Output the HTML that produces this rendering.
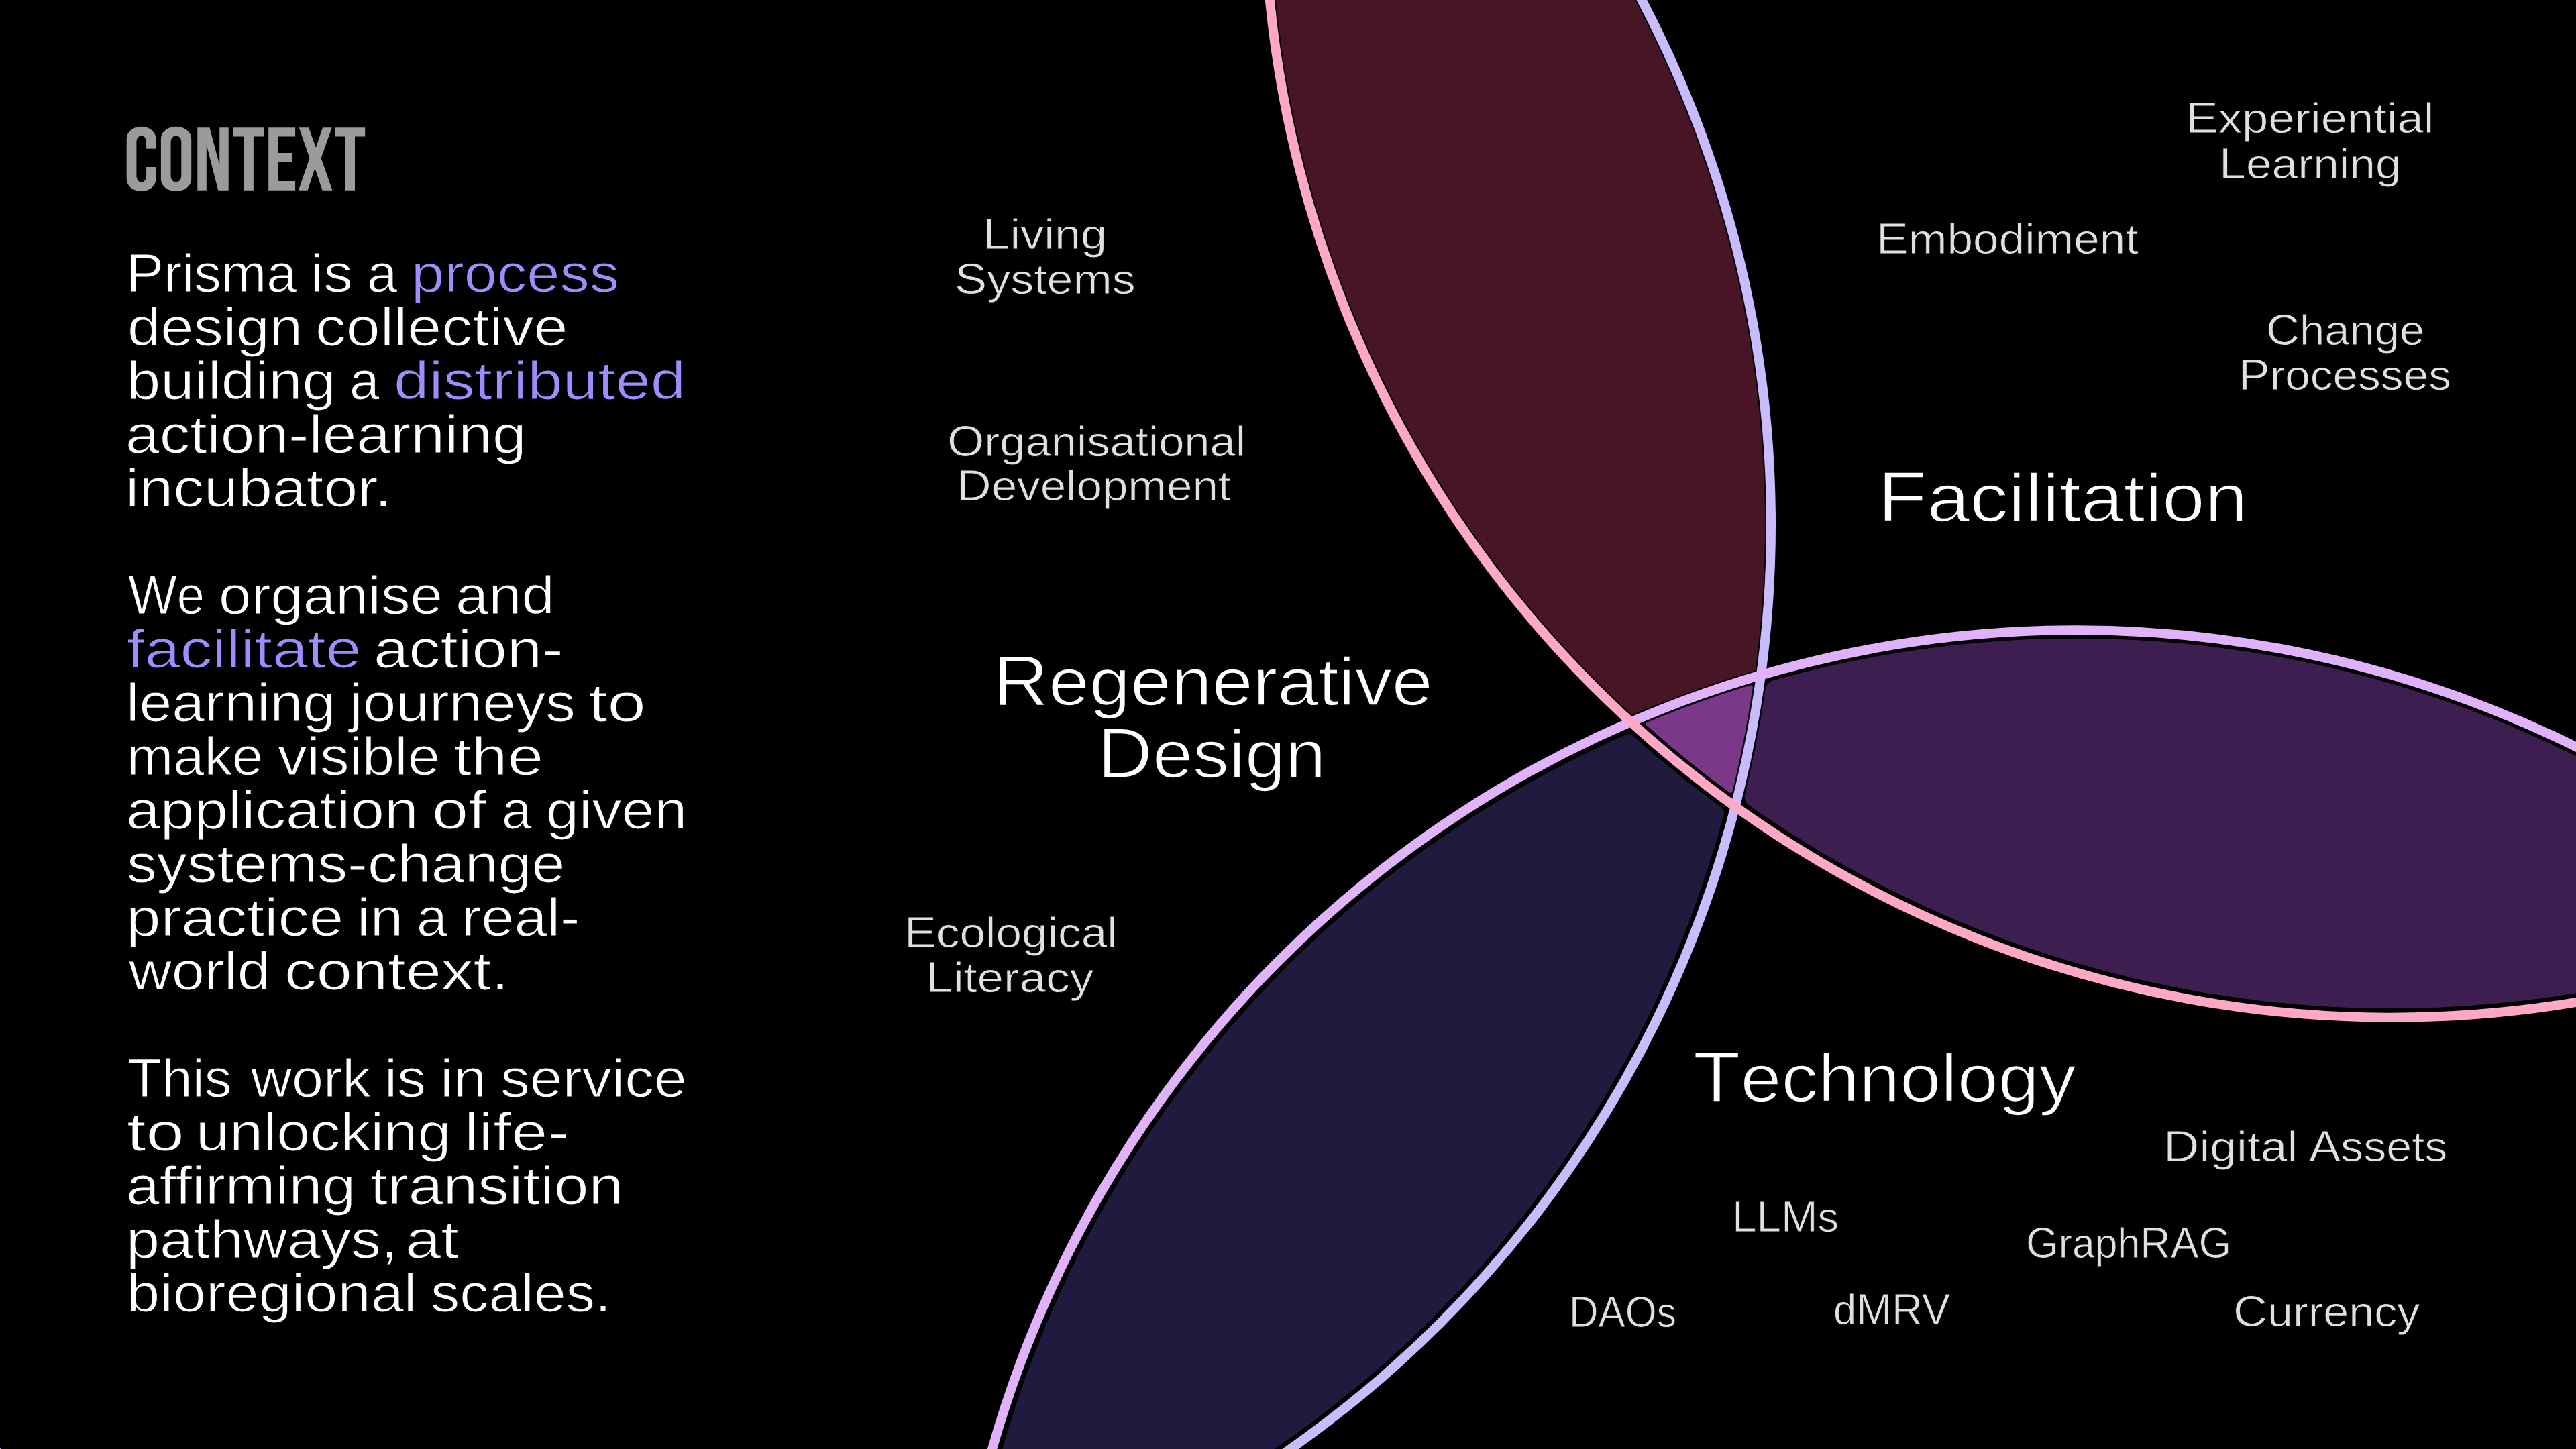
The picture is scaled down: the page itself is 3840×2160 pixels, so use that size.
<!DOCTYPE html>
<html><head><meta charset="utf-8"><title>Context</title>
<style>
html,body{margin:0;padding:0;background:#000;width:3840px;height:2160px;overflow:hidden}
.t{position:absolute;font-family:"Liberation Sans",sans-serif;white-space:nowrap;transform-origin:0 0}
.c{line-height:0}
</style></head><body>
<svg width="3840" height="2160" viewBox="0 0 3840 2160" style="position:absolute;left:0;top:0"><path fill="#481526" d="M2631.0,774.3 2630.7,748.6 2629.9,720.4 2628.7,694.7 2627.0,666.5 2625.0,640.9 2622.4,612.8 2619.3,584.7 2616.1,559.2 2612.1,531.2 2608.1,505.9 2603.6,480.6 2598.3,452.8 2593.1,427.7 2586.9,400.1 2580.2,372.7 2573.7,347.8 2566.2,320.6 2558.9,295.9 2551.3,271.4 2542.4,244.6 2533.1,217.9 2524.3,193.8 2515.1,169.8 2504.5,143.6 2493.5,117.6 2483.2,94.1 2472.4,70.7 2460.2,45.3 2447.6,20.0 2435.7,-2.8 2423.5,-25.4 2409.7,-50.0 1897.7,-50.0 1901.0,-9.7 1904.9,28.5 1910.2,69.2 1915.9,107.2 1923.1,147.6 1930.7,185.3 1939.1,222.8 1949.1,262.6 1959.3,299.6 1970.4,336.5 1983.1,375.4 1995.9,411.7 2009.6,447.6 2025.1,485.6 2041.4,523.2 2057.6,558.1 2075.8,594.9 2093.6,628.9 2112.2,662.6 2133.0,698.0 2154.5,732.8 2175.5,765.1 2197.2,796.8 2221.2,830.1 2244.4,860.7 2270.0,892.8 2296.3,924.3 2321.6,953.2 2349.4,983.3 2376.1,1011.0 2403.4,1038.0 2432.6,1065.6 2456.1,1055.8 2477.7,1047.1 2501.9,1037.9 2523.8,1029.8 2545.8,1022.1 2570.4,1013.8 2592.6,1006.7 2616.8,999.4 2620.2,971.7 2623.2,943.6 2625.7,915.4 2627.7,887.2 2629.2,859.0 2630.3,830.8 2630.9,802.5 2631.0,774.3Z"/><path fill="#1f1a3e" d="M1822.3,2210.0 1845.7,2195.6 1869.4,2180.3 1892.8,2164.8 1916.0,2148.8 1936.9,2133.9 1959.6,2117.2 1981.9,2100.0 2002.1,2084.1 2023.9,2066.3 2045.4,2048.1 2064.7,2031.3 2085.6,2012.4 2104.4,1994.9 2124.7,1975.4 2144.6,1955.5 2164.2,1935.3 2181.8,1916.7 2200.8,1895.8 2219.4,1874.7 2237.6,1853.2 2253.9,1833.4 2271.5,1811.4 2287.1,1791.1 2304.0,1768.5 2320.4,1745.6 2336.5,1722.5 2350.7,1701.2 2366.0,1677.6 2379.6,1655.8 2394.2,1631.7 2408.3,1607.3 2422.0,1582.7 2432.9,1562.4 2444.7,1539.7 2456.2,1516.7 2467.3,1493.7 2478.0,1470.4 2488.4,1447.0 2498.4,1423.4 2507.1,1402.1 2516.4,1378.2 2525.4,1354.2 2534.0,1330.1 2542.2,1305.8 2550.1,1281.4 2557.5,1256.9 2566.0,1227.4 2569.6,1214.2 2569.9,1212.2 2569.9,1210.2 2569.4,1208.3 2568.5,1206.4 2566.6,1204.1 2531.5,1177.7 2498.9,1152.0 2468.9,1127.1 2451.2,1111.9 2434.3,1096.8 2432.8,1095.7 2431.0,1094.9 2428.2,1094.3 2426.3,1094.4 2423.6,1095.1 2401.7,1105.0 2380.8,1114.7 2360.1,1124.7 2337.3,1136.2 2303.3,1154.0 2269.8,1172.6 2236.8,1192.0 2202.0,1213.5 2174.1,1231.6 2144.5,1251.7 2115.4,1272.4 2086.7,1293.8 2058.5,1315.7 2030.7,1338.3 2003.4,1361.5 1976.7,1385.2 1950.4,1409.5 1926.5,1432.6 1901.3,1457.9 1876.7,1483.8 1854.3,1508.4 1830.7,1535.3 1807.7,1562.7 1786.9,1588.6 1765.1,1616.9 1745.3,1643.6 1724.7,1672.8 1706.1,1700.4 1686.7,1730.4 1667.9,1760.9 1651.1,1789.5 1633.6,1820.7 1621.5,1843.2 1609.8,1865.9 1598.4,1888.8 1586.3,1914.2 1575.6,1937.4 1564.3,1963.1 1554.4,1986.7 1544.9,2010.4 1535.8,2034.3 1526.1,2060.6 1517.7,2084.8 1509.7,2109.1 1502.1,2133.4 1494.1,2160.4 1487.2,2185.0 1480.7,2210.0 1822.3,2210.0Z"/><path fill="#3c1e50" d="M2600.8,1185.4 2600.7,1188.6 2600.9,1190.2 2601.7,1193.3 2603.1,1196.1 2605.1,1198.6 2606.2,1199.7 2624.2,1212.3 2645.4,1226.6 2666.8,1240.5 2688.5,1254.1 2710.3,1267.4 2732.4,1280.4 2754.6,1293.0 2777.1,1305.2 2797.4,1316.0 2820.2,1327.6 2843.2,1338.8 2866.3,1349.7 2887.2,1359.2 2908.3,1368.4 2948.5,1385.0 2969.9,1393.4 2991.4,1401.4 3032.5,1415.9 3073.8,1429.2 3095.8,1435.8 3117.9,1442.1 3160.0,1453.3 3182.3,1458.7 3204.7,1463.8 3247.3,1472.7 3290.1,1480.4 3330.5,1486.6 3373.6,1492.2 3416.8,1496.6 3460.1,1499.9 3503.5,1502.1 3547.0,1503.1 3590.5,1503.0 3633.9,1501.8 3674.8,1499.6 3718.1,1496.1 3761.3,1491.6 3804.4,1485.9 3847.3,1479.1 3890.0,1471.2 3890.0,1153.2 3863.4,1139.1 3838.2,1126.3 3810.7,1112.9 3785.1,1101.1 3759.4,1089.6 3733.5,1078.6 3705.0,1067.2 3678.7,1057.1 3649.9,1046.6 3623.3,1037.5 3594.1,1028.0 3567.2,1019.8 3540.1,1012.1 3512.9,1004.8 3485.6,998.0 3455.7,991.1 3433.2,986.3 3410.6,981.8 3388.0,977.6 3365.3,973.7 3342.5,970.1 3319.8,966.9 3296.9,963.9 3274.0,961.3 3251.1,959.0 3228.2,957.0 3205.2,955.3 3182.3,954.0 3159.3,952.9 3136.2,952.2 3113.2,951.8 3090.2,951.7 3067.2,951.9 3044.2,952.5 3021.1,953.3 2998.2,954.5 2975.2,956.0 2952.2,957.8 2929.3,960.0 2906.4,962.4 2883.6,965.2 2860.7,968.3 2838.0,971.7 2815.2,975.4 2792.6,979.4 2770.0,983.7 2747.4,988.4 2724.9,993.3 2685.1,1002.9 2643.1,1014.2 2640.3,1015.3 2637.7,1016.9 2635.5,1019.0 2633.7,1021.5 2632.4,1024.3 2631.6,1027.3 2624.6,1071.4 2616.5,1114.8 2609.5,1147.8 2600.8,1185.4Z"/><path fill="#7b3889" d="M2455.3,1076.7 2454.2,1077.6 2453.8,1078.7 2453.8,1080.1 2454.5,1081.4 2473.5,1098.1 2492.9,1114.6 2522.6,1139.0 2550.8,1161.1 2577.9,1181.3 2579.2,1181.9 2580.7,1181.7 2582.1,1180.7 2582.8,1178.8 2590.4,1146.3 2597.3,1113.6 2602.2,1088.4 2606.7,1063.1 2612.4,1027.6 2612.8,1024.6 2612.6,1023.4 2612.0,1022.4 2611.0,1021.7 2610.1,1021.5 2608.9,1021.6 2583.6,1029.5 2559.2,1037.6 2532.6,1046.8 2506.2,1056.6 2479.9,1066.7 2455.3,1076.7Z"/><circle cx="956.6" cy="782.0" r="1683.4" fill="none" stroke="#c8bcff" stroke-width="14"/><circle cx="3095.3" cy="2619.4" r="1680.2" fill="none" stroke="#e0b2fc" stroke-width="14"/><circle cx="3564.9" cy="-163.3" r="1680.0" fill="none" stroke="#ffa8c6" stroke-width="14"/><path fill="#9b9b9b" fill-rule="evenodd" d="M188.7,206.7 A21.85000000000001,18 0 0 1 232.4,206.7 L232.4,267.2 A21.85000000000001,18 0 0 1 188.7,267.2 ZM203.4,211.2 A7.349999999999994,9 0 0 1 218.1,211.2 L218.1,262.7 A7.349999999999994,9 0 0 1 203.4,262.7 ZM239.9,206.7 A22.64999999999999,18 0 0 1 285.2,206.7 L285.2,267.2 A22.64999999999999,18 0 0 1 239.9,267.2 ZM254.6,211.2 A7.8500000000000085,9 0 0 1 270.3,211.2 L270.3,262.7 A7.8500000000000085,9 0 0 1 254.6,262.7 ZM294.3,190.2 L312.5,190.2 L327.2,245.9 L327.2,190.2 L340.7,190.2 L340.7,283.7 L325.2,283.7 L307.8,215.7 L307.8,283.7 L294.3,283.7 ZM347.7,190.2 L393,190.2 L393,203.6 L377.9,203.6 L377.9,283.7 L363,283.7 L363,203.6 L347.7,203.6 ZM400.2,190.2 L440.1,190.2 L440.1,203.6 L414.8,203.6 L414.8,228.1 L435,228.1 L435,241.8 L414.8,241.8 L414.8,270.1 L440.1,270.1 L440.1,283.7 L400.2,283.7 ZM445.8,190.2 L460.2,190.2 L470.8,220 L481,190.2 L494.7,190.2 L478.6,235.8 L495.5,283.7 L480.6,283.7 L469.4,250.9 L458.6,283.7 L444.9,283.7 L461.5,235.8 ZM499,190.2 L544.2,190.2 L544.2,203.6 L529,203.6 L529,283.7 L514,283.7 L514,203.6 L499,203.6 Z"/><rect x="217" y="221.7" width="17" height="27.3" fill="#000"/></svg>
<div class=t style="left:187.8px;top:368.0px;font-size:79px;line-height:79px;color:#ffffff;-webkit-text-stroke:1.1px #000;transform:scaleX(1.0263)"><span class=c style='font-size:1.04em'>P</span>risma</div><div class=t style="left:462.9px;top:368.0px;font-size:79px;line-height:79px;color:#ffffff;-webkit-text-stroke:1.1px #000;transform:scaleX(1.1021)">is</div><div class=t style="left:546.5px;top:368.0px;font-size:79px;line-height:79px;color:#ffffff;-webkit-text-stroke:1.1px #000;transform:scaleX(1.0308)">a</div><div class=t style="left:612.8px;top:368.0px;font-size:79px;line-height:79px;color:#a08cfc;-webkit-text-stroke:1.1px #000;transform:scaleX(1.1206)">process</div><div class=t style="left:189.5px;top:448.0px;font-size:79px;line-height:79px;color:#ffffff;-webkit-text-stroke:1.1px #000;transform:scaleX(1.1206)">design</div><div class=t style="left:470.0px;top:448.0px;font-size:79px;line-height:79px;color:#ffffff;-webkit-text-stroke:1.1px #000;transform:scaleX(1.1584)">collective</div><div class=t style="left:188.5px;top:528.0px;font-size:79px;line-height:79px;color:#ffffff;-webkit-text-stroke:1.1px #000;transform:scaleX(1.1452)">building</div><div class=t style="left:520.9px;top:528.0px;font-size:79px;line-height:79px;color:#ffffff;-webkit-text-stroke:1.1px #000;transform:scaleX(1.0154)">a</div><div class=t style="left:587.0px;top:528.0px;font-size:79px;line-height:79px;color:#a08cfc;-webkit-text-stroke:1.1px #000;transform:scaleX(1.1944)">distributed</div><div class=t style="left:187.3px;top:608.0px;font-size:79px;line-height:79px;color:#ffffff;-webkit-text-stroke:1.1px #000;transform:scaleX(1.1532)">action-learning</div><div class=t style="left:187.4px;top:688.0px;font-size:79px;line-height:79px;color:#ffffff;-webkit-text-stroke:1.1px #000;transform:scaleX(1.1587)">incubator.</div><div class=t style="left:191.2px;top:848.0px;font-size:79px;line-height:79px;color:#ffffff;-webkit-text-stroke:1.1px #000;transform:scaleX(0.9388)"><span class=c style='font-size:1.04em'>W</span>e</div><div class=t style="left:325.8px;top:848.0px;font-size:79px;line-height:79px;color:#ffffff;-webkit-text-stroke:1.1px #000;transform:scaleX(1.1017)">organise</div><div class=t style="left:679.0px;top:848.0px;font-size:79px;line-height:79px;color:#ffffff;-webkit-text-stroke:1.1px #000;transform:scaleX(1.1221)">and</div><div class=t style="left:189.1px;top:928.0px;font-size:79px;line-height:79px;color:#a08cfc;-webkit-text-stroke:1.1px #000;transform:scaleX(1.2060)">facilitate</div><div class=t style="left:557.4px;top:928.0px;font-size:79px;line-height:79px;color:#ffffff;-webkit-text-stroke:1.1px #000;transform:scaleX(1.1913)">action-</div><div class=t style="left:188.3px;top:1008.0px;font-size:79px;line-height:79px;color:#ffffff;-webkit-text-stroke:1.1px #000;transform:scaleX(1.1100)">learning</div><div class=t style="left:521.2px;top:1008.0px;font-size:79px;line-height:79px;color:#ffffff;-webkit-text-stroke:1.1px #000;transform:scaleX(1.1280)">journeys</div><div class=t style="left:877.4px;top:1008.0px;font-size:79px;line-height:79px;color:#ffffff;-webkit-text-stroke:1.1px #000;transform:scaleX(1.3033)">to</div><div class=t style="left:188.7px;top:1088.0px;font-size:79px;line-height:79px;color:#ffffff;-webkit-text-stroke:1.1px #000;transform:scaleX(1.0525)">make</div><div class=t style="left:414.1px;top:1088.0px;font-size:79px;line-height:79px;color:#ffffff;-webkit-text-stroke:1.1px #000;transform:scaleX(1.1028)">visible</div><div class=t style="left:676.0px;top:1088.0px;font-size:79px;line-height:79px;color:#ffffff;-webkit-text-stroke:1.1px #000;transform:scaleX(1.2212)">the</div><div class=t style="left:188.2px;top:1168.0px;font-size:79px;line-height:79px;color:#ffffff;-webkit-text-stroke:1.1px #000;transform:scaleX(1.1535)">application</div><div class=t style="left:643.7px;top:1168.0px;font-size:79px;line-height:79px;color:#ffffff;-webkit-text-stroke:1.1px #000;transform:scaleX(1.2290)">of</div><div class=t style="left:747.9px;top:1168.0px;font-size:79px;line-height:79px;color:#ffffff;-webkit-text-stroke:1.1px #000;transform:scaleX(1.0179)">a</div><div class=t style="left:814.1px;top:1168.0px;font-size:79px;line-height:79px;color:#ffffff;-webkit-text-stroke:1.1px #000;transform:scaleX(1.1128)">given</div><div class=t style="left:189.4px;top:1248.0px;font-size:79px;line-height:79px;color:#ffffff;-webkit-text-stroke:1.1px #000;transform:scaleX(1.1359)">systems-change</div><div class=t style="left:188.0px;top:1328.0px;font-size:79px;line-height:79px;color:#ffffff;-webkit-text-stroke:1.1px #000;transform:scaleX(1.1723)">practice</div><div class=t style="left:532.1px;top:1328.0px;font-size:79px;line-height:79px;color:#ffffff;-webkit-text-stroke:1.1px #000;transform:scaleX(1.1260)">in</div><div class=t style="left:620.8px;top:1328.0px;font-size:79px;line-height:79px;color:#ffffff;-webkit-text-stroke:1.1px #000;transform:scaleX(1.0410)">a</div><div class=t style="left:688.3px;top:1328.0px;font-size:79px;line-height:79px;color:#ffffff;-webkit-text-stroke:1.1px #000;transform:scaleX(1.1162)">real-</div><div class=t style="left:192.2px;top:1408.0px;font-size:79px;line-height:79px;color:#ffffff;-webkit-text-stroke:1.1px #000;transform:scaleX(1.1159)">world</div><div class=t style="left:423.7px;top:1408.0px;font-size:79px;line-height:79px;color:#ffffff;-webkit-text-stroke:1.1px #000;transform:scaleX(1.2098)">context.</div><div class=t style="left:189.5px;top:1568.0px;font-size:79px;line-height:79px;color:#ffffff;-webkit-text-stroke:1.1px #000;transform:scaleX(1.0267)"><span class=c style='font-size:1.04em'>T</span>his</div><div class=t style="left:373.5px;top:1568.0px;font-size:79px;line-height:79px;color:#ffffff;-webkit-text-stroke:1.1px #000;transform:scaleX(1.0695)">work</div><div class=t style="left:573.3px;top:1568.0px;font-size:79px;line-height:79px;color:#ffffff;-webkit-text-stroke:1.1px #000;transform:scaleX(1.0875)">is</div><div class=t style="left:655.6px;top:1568.0px;font-size:79px;line-height:79px;color:#ffffff;-webkit-text-stroke:1.1px #000;transform:scaleX(1.1300)">in</div><div class=t style="left:746.1px;top:1568.0px;font-size:79px;line-height:79px;color:#ffffff;-webkit-text-stroke:1.1px #000;transform:scaleX(1.1099)">service</div><div class=t style="left:189.0px;top:1648.0px;font-size:79px;line-height:79px;color:#ffffff;-webkit-text-stroke:1.1px #000;transform:scaleX(1.3017)">to</div><div class=t style="left:291.9px;top:1648.0px;font-size:79px;line-height:79px;color:#ffffff;-webkit-text-stroke:1.1px #000;transform:scaleX(1.1401)">unlocking</div><div class=t style="left:691.7px;top:1648.0px;font-size:79px;line-height:79px;color:#ffffff;-webkit-text-stroke:1.1px #000;transform:scaleX(1.2299)">life-</div><div class=t style="left:187.9px;top:1728.0px;font-size:79px;line-height:79px;color:#ffffff;-webkit-text-stroke:1.1px #000;transform:scaleX(1.1346)">affirming</div><div class=t style="left:551.7px;top:1728.0px;font-size:79px;line-height:79px;color:#ffffff;-webkit-text-stroke:1.1px #000;transform:scaleX(1.1770)">transition</div><div class=t style="left:188.4px;top:1808.0px;font-size:79px;line-height:79px;color:#ffffff;-webkit-text-stroke:1.1px #000;transform:scaleX(1.1383)">pathways,</div><div class=t style="left:604.4px;top:1808.0px;font-size:79px;line-height:79px;color:#ffffff;-webkit-text-stroke:1.1px #000;transform:scaleX(1.2148)">at</div><div class=t style="left:188.5px;top:1888.0px;font-size:79px;line-height:79px;color:#ffffff;-webkit-text-stroke:1.1px #000;transform:scaleX(1.1189)">bioregional</div><div class=t style="left:641.8px;top:1888.0px;font-size:79px;line-height:79px;color:#ffffff;-webkit-text-stroke:1.1px #000;transform:scaleX(1.0945)">scales.</div><div class=t style="left:1465.3px;top:318.0px;font-size:63px;line-height:63px;color:#e0e0e0;-webkit-text-stroke:0.8px #000;transform:scaleX(1.1161)"><span class=c style='font-size:1.035em'>L</span>iving</div><div class=t style="left:1423.2px;top:385.0px;font-size:63px;line-height:63px;color:#e0e0e0;-webkit-text-stroke:0.8px #000;transform:scaleX(1.1097)"><span class=c style='font-size:1.035em'>S</span>ystems</div><div class=t style="left:1411.7px;top:627.0px;font-size:63px;line-height:63px;color:#e0e0e0;-webkit-text-stroke:0.8px #000;transform:scaleX(1.0910)"><span class=c style='font-size:1.035em'>O</span>rganisational</div><div class=t style="left:1425.8px;top:693.0px;font-size:63px;line-height:63px;color:#e0e0e0;-webkit-text-stroke:0.8px #000;transform:scaleX(1.0973)"><span class=c style='font-size:1.035em'>D</span>evelopment</div><div class=t style="left:1348.4px;top:1359.0px;font-size:63px;line-height:63px;color:#e0e0e0;-webkit-text-stroke:0.8px #000;transform:scaleX(1.1007)"><span class=c style='font-size:1.035em'>E</span>cological</div><div class=t style="left:1380.2px;top:1426.0px;font-size:63px;line-height:63px;color:#e0e0e0;-webkit-text-stroke:0.8px #000;transform:scaleX(1.1279)"><span class=c style='font-size:1.035em'>L</span>iteracy</div><div class=t style="left:3258.3px;top:145.0px;font-size:63px;line-height:63px;color:#e0e0e0;-webkit-text-stroke:0.8px #000;transform:scaleX(1.1206)"><span class=c style='font-size:1.035em'>E</span>xperiential</div><div class=t style="left:3308.0px;top:213.0px;font-size:63px;line-height:63px;color:#e0e0e0;-webkit-text-stroke:0.8px #000;transform:scaleX(1.1017)"><span class=c style='font-size:1.035em'>L</span>earning</div><div class=t style="left:2796.6px;top:325.0px;font-size:63px;line-height:63px;color:#e0e0e0;-webkit-text-stroke:0.8px #000;transform:scaleX(1.1000)"><span class=c style='font-size:1.035em'>E</span>mbodiment</div><div class=t style="left:3377.5px;top:461.0px;font-size:63px;line-height:63px;color:#e0e0e0;-webkit-text-stroke:0.8px #000;transform:scaleX(1.0633)"><span class=c style='font-size:1.035em'>C</span>hange</div><div class=t style="left:3337.2px;top:528.0px;font-size:63px;line-height:63px;color:#e0e0e0;-webkit-text-stroke:0.8px #000;transform:scaleX(1.0725)"><span class=c style='font-size:1.035em'>P</span>rocesses</div><div class=t style="left:3225.2px;top:1678.0px;font-size:63px;line-height:63px;color:#e0e0e0;-webkit-text-stroke:0.8px #000;transform:scaleX(1.1349)"><span class=c style='font-size:1.035em'>D</span>igital</div><div class=t style="left:3442.1px;top:1678.0px;font-size:63px;line-height:63px;color:#e0e0e0;-webkit-text-stroke:0.8px #000;transform:scaleX(1.0829)"><span class=c style='font-size:1.035em'>A</span>ssets</div><div class=t style="left:2581.6px;top:1783.0px;font-size:63px;line-height:63px;color:#e0e0e0;-webkit-text-stroke:0.8px #000;transform:scaleX(1.0060)"><span class=c style='font-size:1.035em'>LLM</span>s</div><div class=t style="left:3019.9px;top:1822.0px;font-size:63px;line-height:63px;color:#e0e0e0;-webkit-text-stroke:0.8px #000;transform:scaleX(0.9631)"><span class=c style='font-size:1.035em'>G</span>raph<span class=c style='font-size:1.035em'>RAG</span></div><div class=t style="left:2338.5px;top:1925.0px;font-size:63px;line-height:63px;color:#e0e0e0;-webkit-text-stroke:0.8px #000;transform:scaleX(0.9256)"><span class=c style='font-size:1.035em'>DAO</span>s</div><div class=t style="left:2732.5px;top:1921.0px;font-size:63px;line-height:63px;color:#e0e0e0;-webkit-text-stroke:0.8px #000;transform:scaleX(0.9747)">d<span class=c style='font-size:1.035em'>MRV</span></div><div class=t style="left:3328.6px;top:1924.0px;font-size:63px;line-height:63px;color:#e0e0e0;-webkit-text-stroke:0.8px #000;transform:scaleX(1.0829)"><span class=c style='font-size:1.035em'>C</span>urrency</div><div class=t style="left:1480.2px;top:966.0px;font-size:101px;line-height:101px;color:#ffffff;-webkit-text-stroke:1.7px #000;transform:scaleX(1.0847)"><span class=c style='font-size:1.05em'>R</span>egenerative</div><div class=t style="left:1636.0px;top:1074.0px;font-size:101px;line-height:101px;color:#ffffff;-webkit-text-stroke:1.7px #000;transform:scaleX(1.0699)"><span class=c style='font-size:1.05em'>D</span>esign</div><div class=t style="left:2799.0px;top:692.0px;font-size:101px;line-height:101px;color:#ffffff;-webkit-text-stroke:1.7px #000;transform:scaleX(1.1349)"><span class=c style='font-size:1.05em'>F</span>acilitation</div><div class=t style="left:2524.0px;top:1557.0px;font-size:101px;line-height:101px;color:#ffffff;-webkit-text-stroke:1.7px #000;transform:scaleX(1.0864)"><span class=c style='font-size:1.05em'>T</span>echnology</div>
</body></html>
